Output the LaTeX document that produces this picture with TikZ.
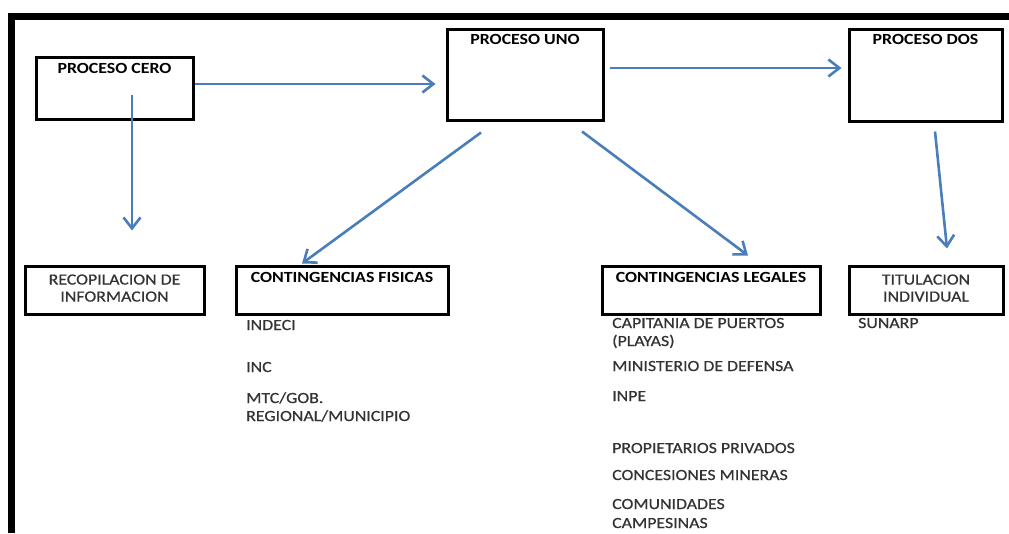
\documentclass[tikz,border=0pt]{standalone}
\usepackage{fontspec}
\setmainfont{Carlito}[FakeStretch=1.15]
\newfontfamily\plainfont{Carlito}[FakeStretch=1.15,FakeBold=0.6]
\usetikzlibrary{arrows.meta}
\definecolor{flowblue}{HTML}{4A7EBB}

\begin{document}
\begin{tikzpicture}[x=1pt,y=-1pt,>={Straight Barb[length=11pt,width=17pt]},
  font=\fontsize{15.5}{18}\selectfont,
  box/.style ={rectangle, draw=black, line width=3pt, inner sep=0pt},
  flow/.style ={draw=flowblue, line width=2.6pt, ->},
  item/.style ={anchor=base west, inner sep=0pt, align=left, text=black!80, font=\fontsize{15.5}{18}\plainfont}]
\useasboundingbox (0,0) rectangle (1009,533);
\draw[line width=7pt] (11.5,533) -- (11.5,16.5) -- (1009,16.5);
\draw (114.5,88) node[box, minimum width=157pt, minimum height=62pt,
  label={[anchor=north,yshift=-4pt,font=\fontsize{15.5}{18}\bfseries]north:PROCESO CERO}] (cero) {};
\draw (525,74.5) node[box, minimum width=156pt, minimum height=91pt,
  label={[anchor=north,yshift=-3pt,font=\fontsize{15.5}{18}\bfseries]north:PROCESO UNO}] (uno) {};
\draw (925.5,75) node[box, minimum width=153pt, minimum height=92pt,
  label={[anchor=north,yshift=-3pt,font=\fontsize{15.5}{18}\bfseries]north:PROCESO DOS}] (dos) {};
\draw (114.5,290) node[box, minimum width=179pt, minimum height=48pt, align=center, text=black!80,
  font=\fontsize{15.5}{18}\plainfont, text depth=4pt] (recop) {RECOPILACION DE\\[-1pt]INFORMACION};
\draw (342,290) node[box, minimum width=212pt, minimum height=48pt,
  label={[anchor=north,yshift=-4pt,font=\fontsize{15.5}{18}\bfseries]north:CONTINGENCIAS FISICAS}] (fis) {};
\draw (711,290) node[box, minimum width=218pt, minimum height=48pt,
  label={[anchor=north,yshift=-4pt,font=\fontsize{15.5}{18}\bfseries]north:CONTINGENCIAS LEGALES}] (leg) {};
\draw (926,290) node[box, minimum width=154pt, minimum height=48pt, align=center, text=black!80,
  font=\fontsize{15.5}{18}\plainfont, text depth=4pt] (tit) {TITULACION\\[-1pt]INDIVIDUAL};

\draw (246,330) node[item] (indeci) {INDECI};
\draw (246,372) node[item] (inc) {INC};
\draw (246,421) node[item] (mtc) {MTC/GOB.\\REGIONAL/MUNICIPIO};
\draw (612,346) node[item] (capitania) {CAPITANIA DE PUERTOS\\(PLAYAS)};
\draw (612,371) node[item] (mindef) {MINISTERIO DE DEFENSA};
\draw (612,401) node[item] (inpe) {INPE};
\draw (612,453) node[item] (propiet) {PROPIETARIOS PRIVADOS};
\draw (612,480) node[item] (mineras) {CONCESIONES MINERAS};
\draw (612,528) node[item] (comunid) {COMUNIDADES\\[1pt]CAMPESINAS};
\draw (858,328) node[item] (sunarp) {SUNARP};

\draw [flow] ([yshift=4pt]cero.east) -- ([xshift=-10pt,yshift=-9.5pt]uno.west);
\draw [flow] ([xshift=5pt,yshift=6.5pt]uno.east) -- ([xshift=-6pt,yshift=7pt]dos.west);
\draw [flow] ([xshift=17.5pt,yshift=-7pt]cero.center) -- ([xshift=17.5pt,yshift=34pt]recop.north);
\draw [flow] ([xshift=-44pt,yshift=-11pt]uno.south) -- ([xshift=-40pt,yshift=1pt]fis.north);
\draw [flow] ([xshift=57pt,yshift=-10pt]uno.south) -- ([xshift=37pt,yshift=9pt]leg.north);
\draw [flow] ([xshift=9.5pt,yshift=-9pt]dos.south) -- ([xshift=21pt,yshift=16pt]tit.north);

\end{tikzpicture}
\end{document}
